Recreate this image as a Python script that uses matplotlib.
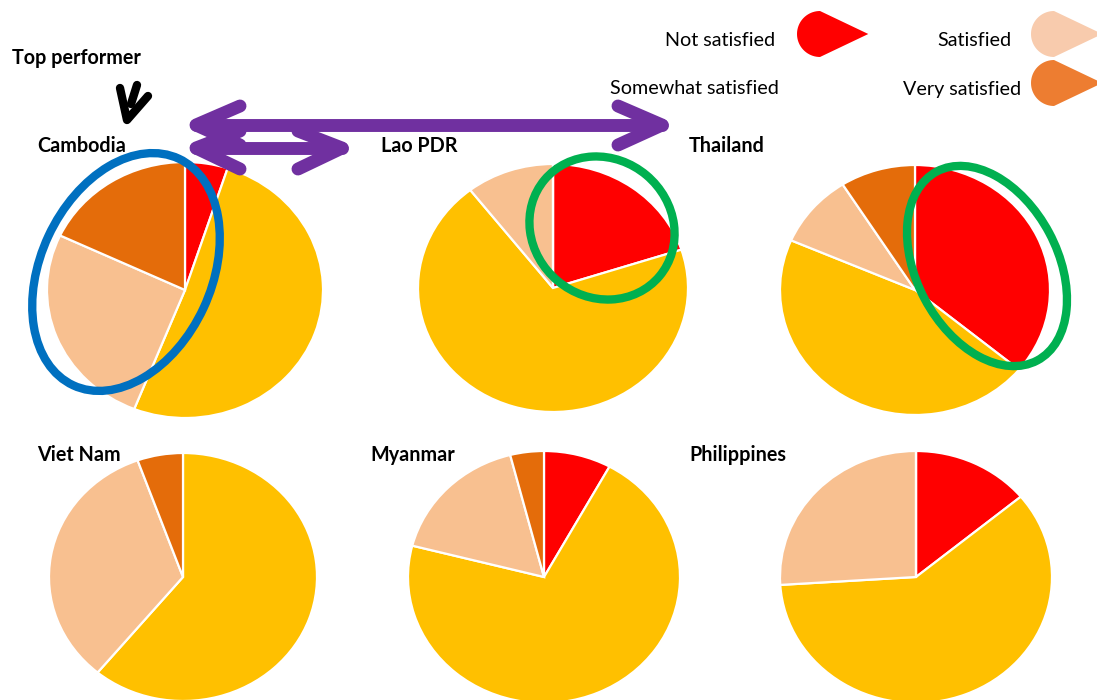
import matplotlib
matplotlib.use("Agg")
import matplotlib.pyplot as plt
from matplotlib.patches import Ellipse, Polygon
import numpy as np

plt.rcParams['font.family'] = ['Lato', 'DejaVu Sans']

# ---------------- data ----------------
countries = ["Cambodia", "Lao PDR", "Thailand", "Viet Nam", "Myanmar", "Philippines"]
categories = ["Not satisfied", "Somewhat satisfied", "Satisfied", "Very satisfied"]
not_satisfied = [5, 20, 36, 0, 8, 14]
somewhat_satisfied = [51, 69.5, 45.5, 61, 71, 60]
satisfied = [26, 10.5, 9.5, 33.5, 17, 26]
very_satisfied = [18, 0, 9, 5.5, 4, 0]

pie_colors = ["#FF0000", "#FFC000", "#F8C090", "#E46C0A"]
legend_colors = ["#FF0000", "#FFC000", "#F8CBAD", "#ED7D31"]

W, H = 1097, 700
fig = plt.figure(figsize=(W / 100, H / 100), dpi=100)

# pie layout in pixels: (cx, cy, rx, ry)
pie_geom = [(185, 290, 138, 128), (553, 288, 135, 124), (915, 290, 135, 125),
            (183, 577, 134, 124), (544, 577, 136, 126), (916, 577, 136, 126)]
title_pos = [(37, 146), (381, 146), (689, 146), (37, 455), (370, 455), (689, 455)]

for i, name in enumerate(countries):
    cx, cy, rx, ry = pie_geom[i]
    ax = fig.add_axes([(cx - rx) / W, (H - (cy + ry)) / H, 2 * rx / W, 2 * ry / H])
    vals = [not_satisfied[i], somewhat_satisfied[i], satisfied[i], very_satisfied[i]]
    wedges, _ = ax.pie(vals, colors=pie_colors, startangle=90, counterclock=False,
                       wedgeprops=dict(edgecolor="white", linewidth=1.6))
    for w in wedges:
        w.set_clip_on(False)
    ax.set_aspect('auto')
    ax.set_xlim(-1, 1)
    ax.set_ylim(-1, 1)
    ax.axis('off')

# overlay axes in pixel coordinates (y up)
ov = fig.add_axes([0, 0, 1, 1], zorder=10)
ov.set_xlim(0, W)
ov.set_ylim(0, H)
ov.axis('off')
ov.patch.set_alpha(0)

def Y(y):
    return H - y

for i, name in enumerate(countries):
    x, y = title_pos[i]
    ov.text(x, Y(y), name, fontsize=14.2, fontweight='bold', ha='left', va='center')

ov.text(12, Y(58), "Top performer", fontsize=14.2, fontweight='bold', ha='left', va='center')

# legend
leg_text = [(775, 40), (779, 89), (1011, 40), (1021, 89)]
leg_mark = [(820, 34), None, (1054, 34), (1054, 83)]
for k, cat in enumerate(categories):
    tx, ty = leg_text[k]
    ov.text(tx, Y(ty), cat, fontsize=14.2, ha='right', va='center')
    if leg_mark[k] is not None:
        mx, my = leg_mark[k]
        r = 23
        ang = np.linspace(np.pi / 2, 3 * np.pi / 2, 40)
        pts = [(mx + r * np.cos(a), Y(my) + r * np.sin(a)) for a in ang]
        pts.append((mx + 2.1 * r, Y(my)))
        ov.add_patch(Polygon(pts, closed=True, facecolor=legend_colors[k], edgecolor='none'))

# purple double arrows
purple = "#7030A0"
def dbl_arrow(x0, x1, y, arm_dx, arm_dy_up, arm_dy_dn):
    kw = dict(color=purple, lw=9.3, solid_capstyle='round', solid_joinstyle='round')
    ov.plot([x0, x1], [Y(y), Y(y)], **kw)
    ov.plot([x0 + arm_dx, x0, x0 + arm_dx], [Y(y - arm_dy_up), Y(y), Y(y + arm_dy_dn)], **kw)
    ov.plot([x1 - arm_dx, x1, x1 - arm_dx], [Y(y - arm_dy_up), Y(y), Y(y + arm_dy_dn)], **kw)

dbl_arrow(196, 662, 125, 44, 19, 20)
dbl_arrow(196, 342, 148, 44, 17, 21)

# black hand-drawn arrow
bk = dict(color='black', lw=6, solid_capstyle='round', solid_joinstyle='round')
ov.plot([120, 127, 148], [Y(88), Y(120), Y(96)], **bk)
ov.plot([137, 131], [Y(85), Y(104)], **bk)

# ellipses
ov.add_patch(Ellipse((126, Y(272)), 171, 250, angle=-25, fill=False,
                     edgecolor="#0070C0", lw=6))
ov.add_patch(Ellipse((602, Y(228)), 150, 138, angle=-40, fill=False,
                     edgecolor="#00B050", lw=6))
ov.add_patch(Ellipse((987, Y(266)), 141, 214, angle=28, fill=False,
                     edgecolor="#00B050", lw=6))

fig.savefig("out.png", dpi=100)
